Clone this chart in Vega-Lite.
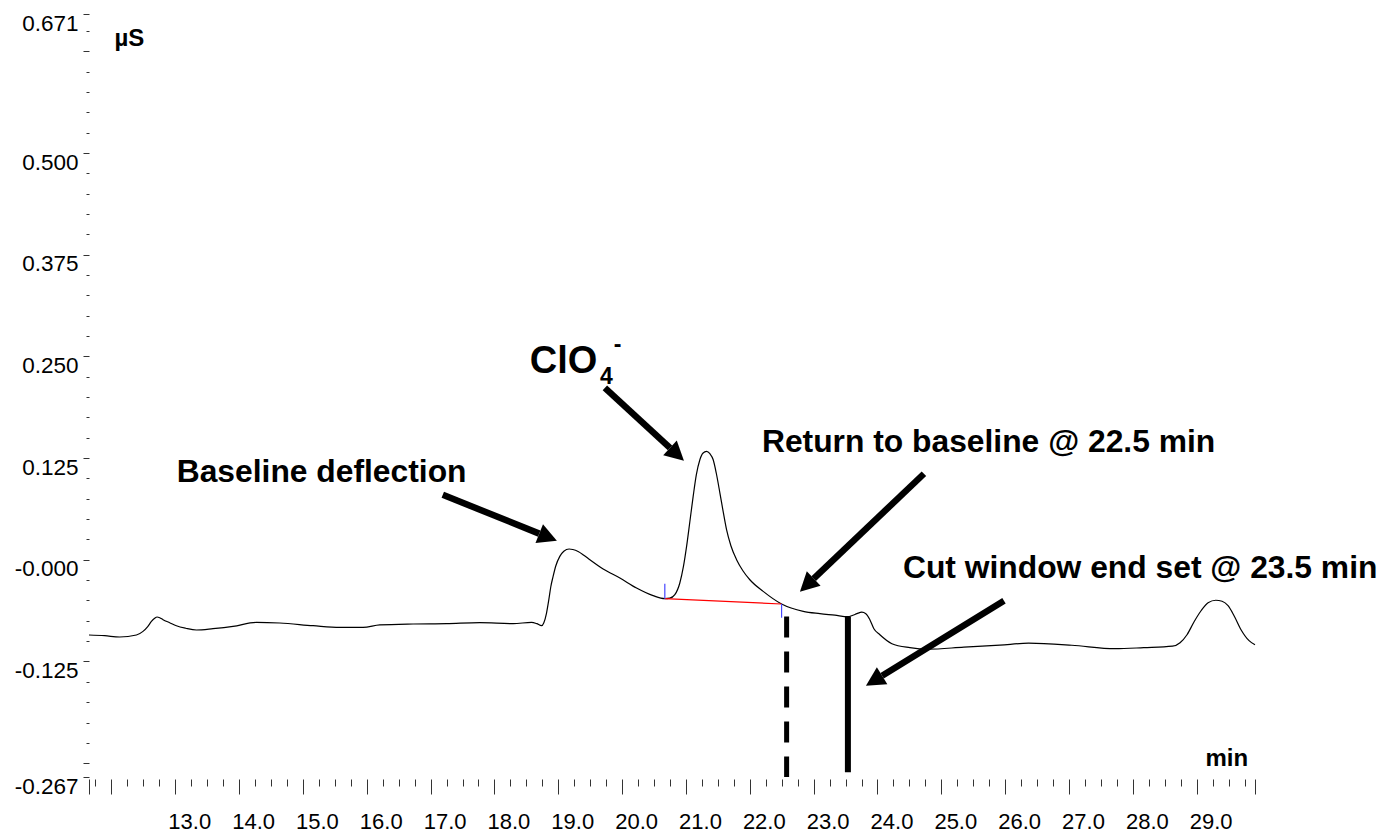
{
  "$schema": "https://vega.github.io/schema/vega-lite/v6.json",
  "width": 1166,
  "height": 763,
  "autosize": {"type": "none"},
  "padding": {"left": 89, "top": 14, "right": 127, "bottom": 55},
  "background": "white",
  "config": {
    "view": {"stroke": null},
    "font": "Liberation Sans",
    "axis": {"labelFont": "Liberation Sans", "titleFont": "Liberation Sans", "labelColor": "black", "titleColor": "black", "tickColor": "#333333"}
  },
  "datasets": {
    "trace": [
      {"t": 11.649, "v": -0.0924}, {"t": 11.895, "v": -0.0933}, {"t": 12.13, "v": -0.0949}, {"t": 12.392, "v": -0.0924},
      {"t": 12.495, "v": -0.088}, {"t": 12.569, "v": -0.0822}, {"t": 12.627, "v": -0.0757}, {"t": 12.678, "v": -0.0718},
      {"t": 12.715, "v": -0.0703}, {"t": 12.757, "v": -0.0712}, {"t": 12.809, "v": -0.0736}, {"t": 12.913, "v": -0.0773},
      {"t": 13.018, "v": -0.081}, {"t": 13.164, "v": -0.0841}, {"t": 13.332, "v": -0.0863}, {"t": 13.592, "v": -0.0847},
      {"t": 13.905, "v": -0.0819}, {"t": 14.272, "v": -0.0769}, {"t": 14.637, "v": -0.0777}, {"t": 15.159, "v": -0.081},
      {"t": 15.577, "v": -0.0831}, {"t": 15.942, "v": -0.0831}, {"t": 16.204, "v": -0.0801}, {"t": 16.726, "v": -0.0789},
      {"t": 17.249, "v": -0.0785}, {"t": 17.771, "v": -0.0773}, {"t": 18.293, "v": -0.0785}, {"t": 18.581, "v": -0.0769},
      {"t": 18.664, "v": -0.0785}, {"t": 18.738, "v": -0.081}, {"t": 18.774, "v": -0.0773}, {"t": 18.816, "v": -0.0654},
      {"t": 18.852, "v": -0.049}, {"t": 18.883, "v": -0.0331}, {"t": 18.919, "v": -0.0204}, {"t": 18.962, "v": -0.0073},
      {"t": 19.024, "v": 0.0042}, {"t": 19.087, "v": 0.0106}, {"t": 19.17, "v": 0.0133}, {"t": 19.228, "v": 0.0127},
      {"t": 19.311, "v": 0.0103}, {"t": 19.4, "v": 0.0057}, {"t": 19.495, "v": 0.0001}, {"t": 19.703, "v": -0.0113},
      {"t": 19.965, "v": -0.0224}, {"t": 20.226, "v": -0.0347}, {"t": 20.486, "v": -0.0441}, {"t": 20.669, "v": -0.0478},
      {"t": 20.748, "v": -0.0472}, {"t": 20.826, "v": -0.0429}, {"t": 20.904, "v": -0.0285}, {"t": 20.96, "v": -0.0085},
      {"t": 21.01, "v": 0.0165}, {"t": 21.061, "v": 0.0468}, {"t": 21.113, "v": 0.0779}, {"t": 21.163, "v": 0.1046},
      {"t": 21.218, "v": 0.123}, {"t": 21.265, "v": 0.131}, {"t": 21.323, "v": 0.1332}, {"t": 21.375, "v": 0.1304},
      {"t": 21.427, "v": 0.123}, {"t": 21.477, "v": 0.1058}, {"t": 21.532, "v": 0.0821}, {"t": 21.586, "v": 0.0579},
      {"t": 21.636, "v": 0.037}, {"t": 21.704, "v": 0.0173}, {"t": 21.793, "v": 0.0001}, {"t": 21.892, "v": -0.0134},
      {"t": 22.001, "v": -0.0245}, {"t": 22.21, "v": -0.0388}, {"t": 22.498, "v": -0.0543}, {"t": 22.837, "v": -0.0634},
      {"t": 23.098, "v": -0.0662}, {"t": 23.333, "v": -0.0681}, {"t": 23.537, "v": -0.0699}, {"t": 23.615, "v": -0.0681},
      {"t": 23.678, "v": -0.0662}, {"t": 23.755, "v": -0.0644}, {"t": 23.818, "v": -0.0662}, {"t": 23.881, "v": -0.0736},
      {"t": 23.944, "v": -0.0847}, {"t": 24.038, "v": -0.0921}, {"t": 24.226, "v": -0.1031}, {"t": 24.508, "v": -0.108},
      {"t": 24.79, "v": -0.1099}, {"t": 25.354, "v": -0.1074}, {"t": 25.918, "v": -0.105}, {"t": 26.367, "v": -0.1025},
      {"t": 27.044, "v": -0.105}, {"t": 27.721, "v": -0.1093}, {"t": 28.171, "v": -0.108}, {"t": 28.622, "v": -0.1062},
      {"t": 28.74, "v": -0.1019}, {"t": 28.849, "v": -0.0921}, {"t": 28.96, "v": -0.0761}, {"t": 29.069, "v": -0.0626},
      {"t": 29.179, "v": -0.0527}, {"t": 29.299, "v": -0.0497}, {"t": 29.398, "v": -0.0509}, {"t": 29.492, "v": -0.0564},
      {"t": 29.586, "v": -0.0687}, {"t": 29.695, "v": -0.0859}, {"t": 29.821, "v": -0.0994}, {"t": 29.914, "v": -0.1044}
    ],
    "integration": [
      {"part": "baseline", "t": 20.669, "v": -0.0478, "t2": 22.498, "v2": -0.0543},
      {"part": "marker", "t": 20.669, "v": -0.0478, "t2": 20.669, "v2": -0.0294},
      {"part": "marker", "t": 22.498, "v": -0.0543, "t2": 22.498, "v2": -0.0712}
    ],
    "cuts": [
      {"name": "return", "t": 22.577, "v": -0.0696, "v2": -0.267},
      {"name": "cut", "t": 23.537, "v": -0.0696, "v2": -0.2613}
    ],
    "arrows": [
      {"t": 17.191, "v": 0.08, "t2": 18.702, "v2": 0.0322, "heading": 112},
      {"t": 19.73, "v": 0.2115, "t2": 20.75, "v2": 0.1377, "heading": 132.7},
      {"t": 24.728, "v": 0.1058, "t2": 23.001, "v2": -0.0231, "heading": 226.4},
      {"t": 25.982, "v": -0.0503, "t2": 24.073, "v2": -0.1425, "heading": 238.4}
    ],
    "notes": [
      {"kind": "note", "label": "Baseline deflection", "t": 13.023, "v": 0.096},
      {"kind": "note", "label": "Return to baseline @ 22.5 min", "t": 22.19, "v": 0.1329},
      {"kind": "note", "label": "Cut window end set @ 23.5 min", "t": 24.399, "v": -0.022},
      {"kind": "ion", "label": "ClO", "t": 18.554, "v": 0.23},
      {"kind": "sub", "label": "4", "t": 19.652, "v": 0.2164},
      {"kind": "sup", "label": "-", "t": 19.87, "v": 0.2558}
    ]
  },
  "encoding": {
    "x": {
      "field": "t",
      "type": "quantitative",
      "scale": {"domain": [11.649, 29.914], "nice": false, "zero": false},
      "axis": {
        "orient": "bottom",
        "domain": false,
        "grid": false,
        "offset": 2,
        "values": [11.649, 11.75, 12, 12.25, 12.5, 12.75, 13, 13.25, 13.5, 13.75, 14, 14.25, 14.5, 14.75, 15, 15.25, 15.5, 15.75, 16, 16.25, 16.5, 16.75, 17, 17.25, 17.5, 17.75, 18, 18.25, 18.5, 18.75, 19, 19.25, 19.5, 19.75, 20, 20.25, 20.5, 20.75, 21, 21.25, 21.5, 21.75, 22, 22.25, 22.5, 22.75, 23, 23.25, 23.5, 23.75, 24, 24.25, 24.5, 24.75, 25, 25.25, 25.5, 25.75, 26, 26.25, 26.5, 26.75, 27, 27.25, 27.5, 27.75, 28, 28.25, 28.5, 28.75, 29, 29.25, 29.5, 29.75, 29.914],
        "tickWidth": 1,
        "tickSize": {"condition": {"test": "abs(datum.value - round(datum.value)) < 1e-6 || datum.value < 11.7 || datum.value > 29.8", "value": 15}, "value": 7},
        "labelExpr": "datum.value >= 12.5 && abs(datum.value - round(datum.value)) < 1e-6 ? format(datum.value, '.1f') : ''",
        "labelOverlap": false,
        "labelFlush": false,
        "labelOffset": 14,
        "labelPadding": 17,
        "labelFontSize": 22,
        "title": "min",
        "titleFontSize": 24,
        "titleFontWeight": "bold",
        "titleX": 1116,
        "titleY": -14,
        "titleAlign": "left",
        "titleBaseline": "alphabetic"
      }
    },
    "y": {
      "field": "v",
      "type": "quantitative",
      "scale": {"domain": [-0.267, 0.671], "nice": false, "zero": false},
      "axis": {
        "orient": "left",
        "domain": false,
        "grid": false,
        "values": [0.671, 0.65, 0.625, 0.6, 0.575, 0.55, 0.525, 0.5, 0.475, 0.45, 0.425, 0.4, 0.375, 0.35, 0.325, 0.3, 0.275, 0.25, 0.225, 0.2, 0.175, 0.15, 0.125, 0.1, 0.075, 0.05, 0.025, 0, -0.025, -0.05, -0.075, -0.1, -0.125, -0.15, -0.175, -0.2, -0.225, -0.25, -0.267],
        "tickWidth": 1,
        "tickSize": {"condition": {"test": "abs(datum.value * 8 - round(datum.value * 8)) < 1e-6 || datum.value > 0.66 || datum.value < -0.26", "value": 6}, "value": 3},
        "labelExpr": "((abs(datum.value * 8 - round(datum.value * 8)) < 1e-6 && datum.value < 0.6 && datum.value > -0.2) || datum.value > 0.66 || datum.value < -0.26) ? (datum.value == 0 ? '-0.000' : replace(format(datum.value, '.3f'), '\u2212', '-')) : ''",
        "labelOverlap": false,
        "labelFlush": false,
        "labelOffset": 9,
        "labelPadding": 5,
        "labelFontSize": 22.5,
        "title": "µS",
        "titleAngle": 0,
        "titleX": 25,
        "titleY": 31,
        "titleAlign": "left",
        "titleBaseline": "alphabetic",
        "titleFontSize": 24,
        "titleFontWeight": "bold"
      }
    }
  },
  "layer": [
    {
      "data": {"name": "trace"},
      "mark": {"type": "line", "color": "black", "strokeWidth": 1.2, "interpolate": "monotone"}
    },
    {
      "data": {"name": "integration"},
      "transform": [{"filter": "datum.part == 'baseline'"}],
      "mark": {"type": "rule", "color": "#ff0000", "strokeWidth": 1.2},
      "encoding": {"x2": {"field": "t2"}, "y2": {"field": "v2"}}
    },
    {
      "data": {"name": "integration"},
      "transform": [{"filter": "datum.part == 'marker'"}],
      "mark": {"type": "rule", "color": "#4646ff", "strokeWidth": 1.2},
      "encoding": {"x2": {"field": "t2"}, "y2": {"field": "v2"}}
    },
    {
      "data": {"name": "cuts"},
      "transform": [{"filter": "datum.name == 'return'"}],
      "mark": {"type": "rule", "color": "black", "strokeWidth": 5, "strokeDash": [21, 14]},
      "encoding": {"y2": {"field": "v2"}}
    },
    {
      "data": {"name": "cuts"},
      "transform": [{"filter": "datum.name == 'cut'"}],
      "mark": {"type": "rule", "color": "black", "strokeWidth": 6},
      "encoding": {"y2": {"field": "v2"}}
    },
    {
      "data": {"name": "arrows"},
      "mark": {"type": "rule", "color": "black", "strokeWidth": 6.5},
      "encoding": {"x2": {"field": "t2"}, "y2": {"field": "v2"}}
    },
    {
      "data": {"name": "arrows"},
      "mark": {"type": "point", "shape": "M0,-1.9L-1,0L1,0Z", "filled": true, "color": "black", "opacity": 1, "size": 400},
      "encoding": {
        "x": {"field": "t2", "type": "quantitative"},
        "y": {"field": "v2", "type": "quantitative"},
        "angle": {"field": "heading", "type": "quantitative", "scale": null}
      }
    },
    {
      "data": {"name": "notes"},
      "transform": [{"filter": "datum.kind == 'note'"}],
      "mark": {"type": "text", "font": "Liberation Sans", "fontWeight": "bold", "fontSize": 31.8, "align": "left", "baseline": "alphabetic", "color": "black"},
      "encoding": {"text": {"field": "label"}}
    },
    {
      "data": {"name": "notes"},
      "transform": [{"filter": "datum.kind == 'ion'"}],
      "mark": {"type": "text", "font": "Liberation Sans", "fontWeight": "bold", "fontSize": 38, "align": "left", "baseline": "alphabetic", "color": "black"},
      "encoding": {"text": {"field": "label"}}
    },
    {
      "data": {"name": "notes"},
      "transform": [{"filter": "datum.kind == 'sub' || datum.kind == 'sup'"}],
      "mark": {"type": "text", "font": "Liberation Sans", "fontWeight": "bold", "fontSize": 23, "align": "left", "baseline": "alphabetic", "color": "black"},
      "encoding": {"text": {"field": "label"}}
    }
  ]
}
